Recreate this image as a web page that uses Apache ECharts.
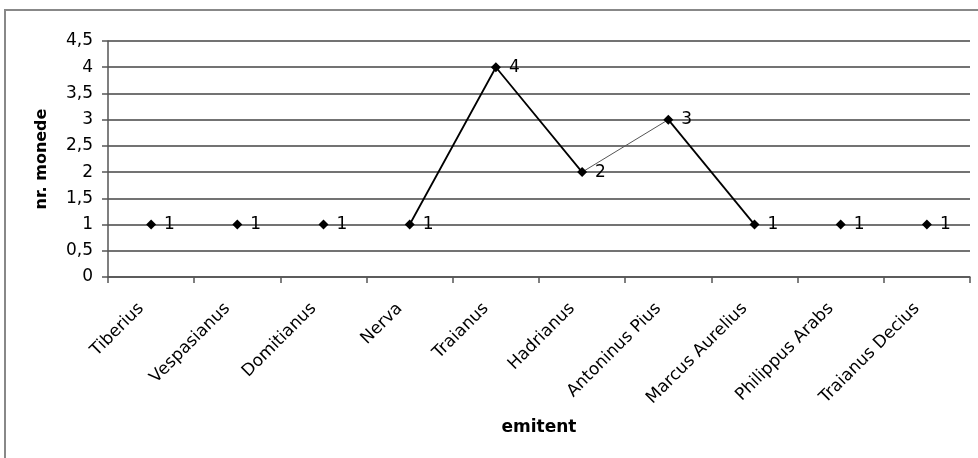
<!DOCTYPE html>
<html>
<head>
<meta charset="utf-8">
<script src="https://cdn.jsdelivr.net/npm/echarts@6/dist/echarts.min.js"></script>
<style>html,body{margin:0;padding:0;background:#fff}#c{width:978px;height:458px}</style>
</head>
<body>
<div id="c"></div>
<script>
var categories = ['Tiberius','Vespasianus','Domitianus','Nerva','Traianus','Hadrianus','Antoninus Pius','Marcus Aurelius','Philippus Arabs','Traianus Decius'];
var values = [1,1,1,1,4,2,3,1,1,1];
var yTicks = [0,0.5,1,1.5,2,2.5,3,3.5,4,4.5];
// connected runs in the original (by category index range)
var thickRuns = [[3,5],[6,7]];
var thinRuns = [[5,6]];

function mask(run){
  return values.map(function(v,i){ return (i>=run[0] && i<=run[1]) ? v : null; });
}

var font = '"DejaVu Sans", Verdana, sans-serif';
var series = [];
thickRuns.forEach(function(r){
  series.push({type:'line', data:mask(r), symbol:'none', silent:true,
    lineStyle:{color:'#000', width:1.8}, connectNulls:false, z:2});
});
thinRuns.forEach(function(r){
  series.push({type:'line', data:mask(r), symbol:'none', silent:true,
    lineStyle:{color:'#555', width:1}, connectNulls:false, z:2});
});
series.push({type:'line', data:values, symbol:'diamond', symbolSize:10,
  itemStyle:{color:'#000'}, lineStyle:{width:0, opacity:0}, z:3,
  label:{show:true, position:'right', distance:8, color:'#000', fontFamily:font, fontSize:17}});

var chart = echarts.init(document.getElementById('c'));
chart.setOption({
  animation:false,
  backgroundColor:'#fff',
  graphic:[{type:'rect', shape:{x:5, y:10, width:990, height:500}, style:{fill:'none', stroke:'#888', lineWidth:2}, z:-10}],
  grid:{left:108, right:8, top:41, bottom:181, containLabel:false},
  xAxis:{type:'category', data:categories, boundaryGap:true,
    name:'emitent', nameLocation:'middle', nameGap:142,
    nameTextStyle:{fontFamily:font, fontWeight:'bold', fontSize:17, color:'#000'},
    axisLine:{lineStyle:{color:'#555', width:1.5}},
    axisTick:{show:true, alignWithLabel:false, length:6, lineStyle:{color:'#555', width:1.5}},
    axisLabel:{rotate:45, interval:0, fontFamily:font, fontSize:17, color:'#000', margin:19, padding:[0,14,0,0]},
    splitLine:{show:false}},
  yAxis:{type:'value', min:0, max:4.5, interval:0.5,
    name:'nr. monede', nameLocation:'middle', nameGap:58, nameRotate:90,
    nameTextStyle:{fontFamily:font, fontWeight:'bold', fontSize:16, color:'#000'},
    axisLine:{show:true, lineStyle:{color:'#555', width:1.5}},
    axisTick:{show:true, length:6, lineStyle:{color:'#555', width:1.5}},
    axisLabel:{fontFamily:font, fontSize:17, color:'#000', margin:15,
      formatter:function(v){ return String(v).replace('.', ','); }},
    splitLine:{show:true, lineStyle:{color:'#444', width:1.5}}},
  series:series
});
</script>
</body>
</html>
